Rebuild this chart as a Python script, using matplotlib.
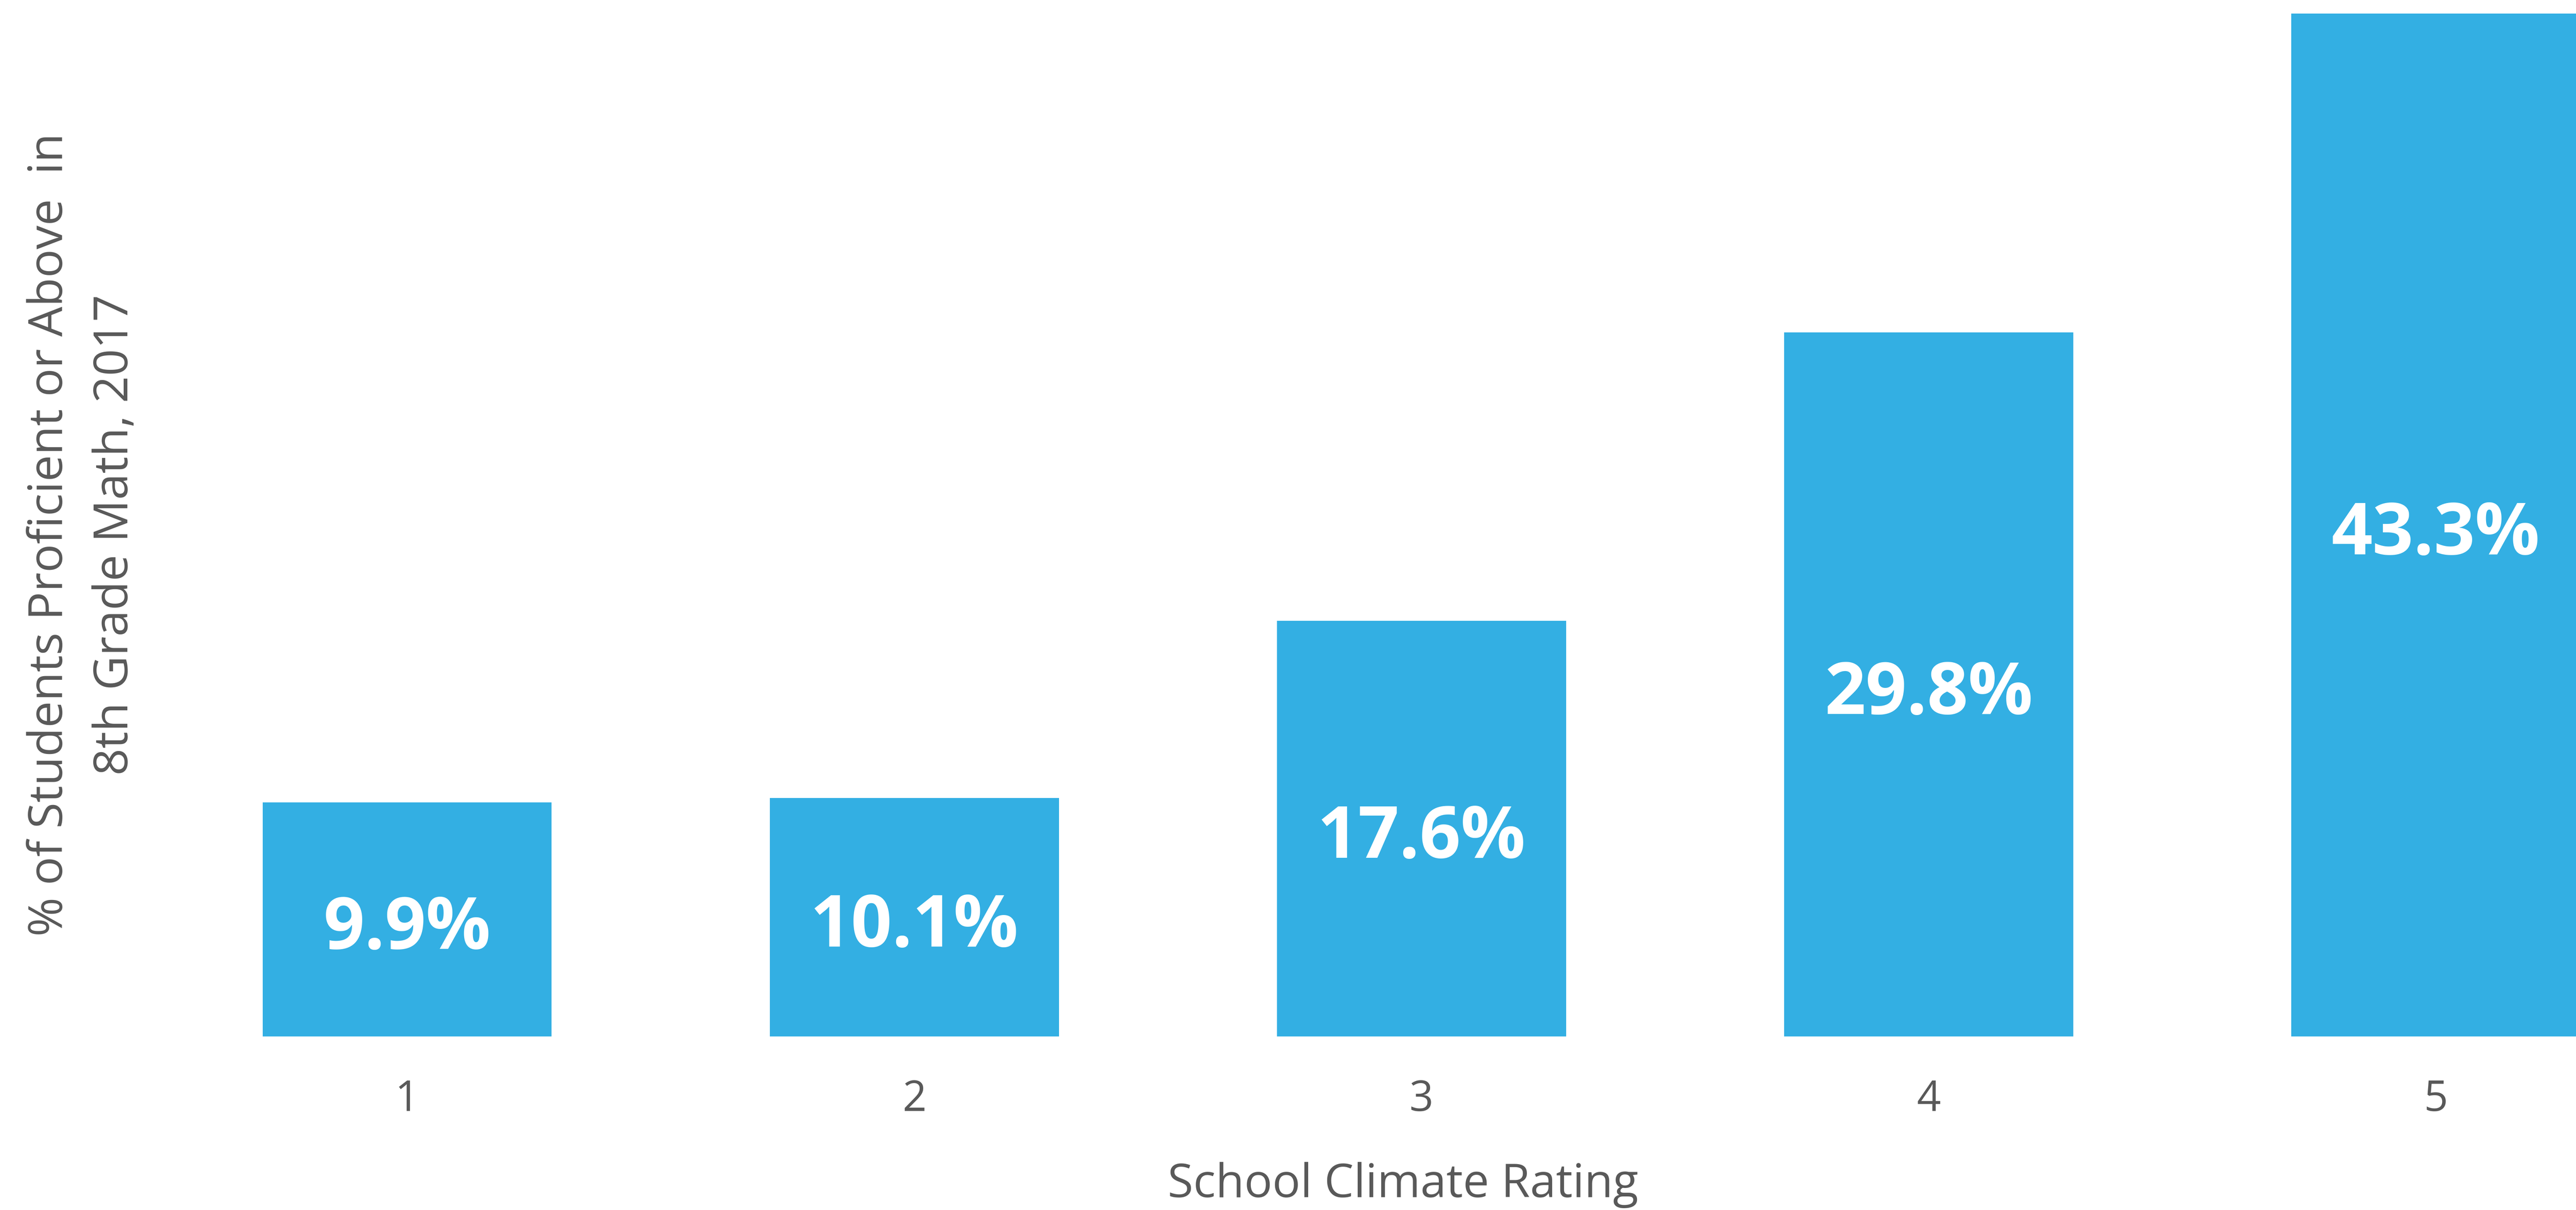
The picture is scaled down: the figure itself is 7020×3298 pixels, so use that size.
import matplotlib
matplotlib.use("Agg")
import matplotlib.pyplot as plt

# data
ratings = ["1", "2", "3", "4", "5"]
proficient_pct = [9.9, 10.1, 17.6, 29.8, 43.3]

bar_color = "#33AFE3"
text_color = "#595959"

plt.rcParams['font.family'] = ['Open Sans', 'DejaVu Sans']

fig = plt.figure(figsize=(23.4, 3298 / 300))
# plot area runs to the right and top edge of the picture
ax = fig.add_axes([0.08, (3298 - 2825) / 3298, 0.92, 2825 / 3298])

x = list(range(1, len(ratings) + 1))
bars = ax.bar(x, proficient_pct, width=0.57, color=bar_color, zorder=2)

# value labels, centred in each bar (nudged down a touch like Excel does)
for xi, v in zip(x, proficient_pct):
    ax.annotate(f"{v:.1f}%", xy=(xi, v / 2), xytext=(0, -7),
                textcoords="offset points", ha="center", va="center",
                color="white", fontsize=47, fontweight="bold")

ax.set_xlim(0.6035, 5.2764)
ax.set_ylim(0, 43.87)

ax.set_xticks(x)
ax.set_xticklabels(ratings)
ax.set_yticks([])
ax.tick_params(axis="x", length=0, pad=27.5, labelsize=27.5, labelcolor=text_color)

for s in ax.spines.values():
    s.set_visible(False)

ax.set_xlabel("School Climate Rating", fontsize=30.5, color=text_color, va="center")
ax.xaxis.set_label_coords(0.505, -0.1435)

ax.set_ylabel("% of Students Proficient or Above  in\n8th Grade Math, 2017",
              fontsize=31, color=text_color, va="center", ha="center",
              linespacing=1.5)
ax.yaxis.set_label_coords(-0.052, 0.484)

fig.savefig("out.png", dpi=300, facecolor="white")
